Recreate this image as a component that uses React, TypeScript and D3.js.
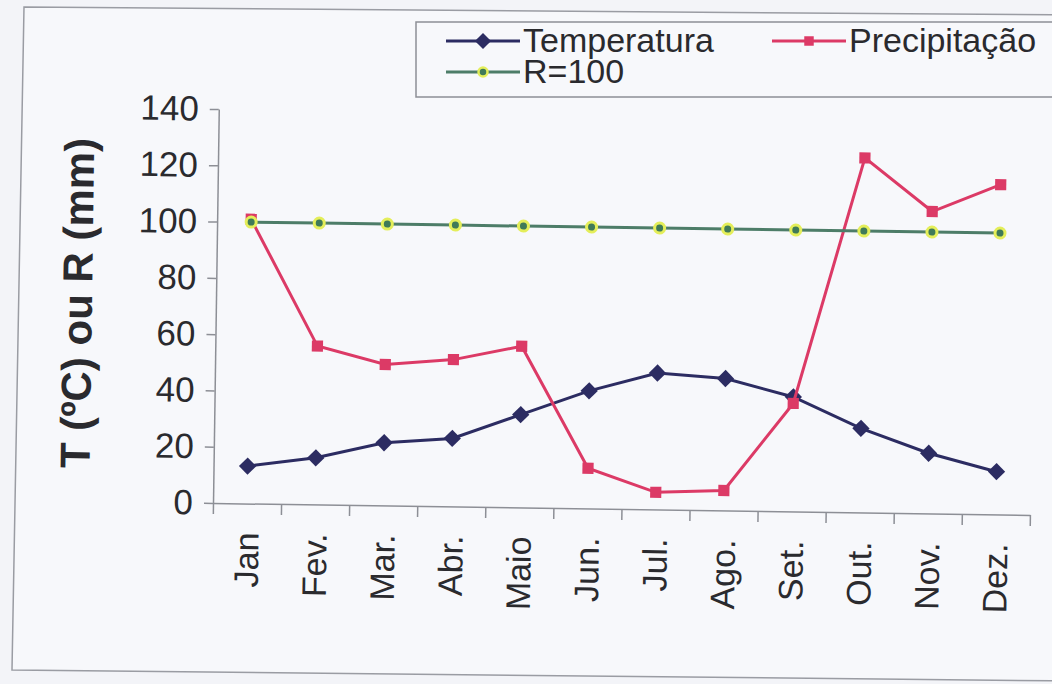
import React, { useEffect, useRef } from "react";
import * as d3 from "d3";

// categories and series
const months = ["Jan", "Fev.", "Mar.", "Abr.", "Maio", "Jun.", "Jul.", "Ago.", "Set.", "Out.", "Nov.", "Dez."];
const temperatura = [13.3, 16.6, 22.3, 24.2, 33, 41.8, 48.5, 46.9, 40.7, 29.9, 21.4, 15.2];
const precipitacao = [101, 56.3, 50.1, 52.2, 57.3, 14.3, 6.1, 7.1, 38.4, 126, 107.3, 117.2];
const r100 = [100, 100, 100, 100, 100, 100, 100, 100, 100, 100, 100, 100];
const yTicks = [0, 20, 40, 60, 80, 100, 120, 140];

const FONT = "'Liberation Sans', Arial, sans-serif";
const TEXT = "#2a2a2e";
const NAVY = "#2c2c62";
const PINK = "#dc3a66";
const GREEN_LINE = "#4d7d68";
const GREEN_DOT = "#3f7a58";
const YELLOW = "#e4ee5a";

const App = () => {
  const svgRef = useRef<SVGSVGElement>(null);

  useEffect(() => {
    document.body.style.margin = "0";
    const svg = d3.select(svgRef.current);
    svg.selectAll("*").remove();

    const width = 1052,
      height = 684;
    const left = 213,
      right = 1030,
      top = 109,
      bottom = 503;

    svg.attr("width", width).attr("height", height).style("display", "block");

    svg.append("rect").attr("width", width).attr("height", height).attr("fill", "#f3f4f8");

    // outer chart frame (photo is slightly skewed)
    svg
      .append("path")
      .attr("d", "M24,7 L1070,15 L1070,681 L12,670 Z")
      .attr("fill", "#f7f8fb")
      .attr("stroke", "#9a9ca3")
      .attr("stroke-width", 1.5);

    // whole plot is rotated a little, like the photographed page
    const chart = svg.append("g").attr("transform", `rotate(0.84, ${left}, ${bottom})`);

    const x = d3.scaleBand().domain(months).range([left, right]).padding(0);
    const xIdx = d3.scaleLinear().domain([0, months.length]).range([left, right]);
    const y = d3.scaleLinear().domain([0, 140]).range([bottom, top]);
    const cx = (m: string) => (x(m) as number) + x.bandwidth() / 2;

    // y axis
    const yAxis = chart
      .append("g")
      .attr("transform", `translate(${left},0)`)
      .call(d3.axisLeft(y).tickValues(yTicks).tickSize(9).tickPadding(11).tickSizeOuter(0));
    yAxis.select(".domain").attr("stroke", "#8d8f96").attr("stroke-width", 1.5);
    yAxis.selectAll(".tick line").attr("stroke", "#8d8f96").attr("stroke-width", 1.5);
    yAxis
      .selectAll("text")
      .attr("font-family", FONT)
      .attr("font-size", 35)
      .attr("fill", TEXT);

    // x axis ticks between categories
    const xTicks = chart
      .append("g")
      .attr("transform", `translate(0,${bottom})`)
      .call(
        d3
          .axisBottom(xIdx)
          .tickValues(d3.range(0, months.length + 1))
          .tickSize(11)
          .tickSizeOuter(0)
          .tickFormat(() => "")
      );
    xTicks.select(".domain").attr("stroke", "#8d8f96").attr("stroke-width", 1.5);
    xTicks.selectAll(".tick line").attr("stroke", "#8d8f96").attr("stroke-width", 1.5);

    // month labels, rotated
    chart
      .selectAll(".mlabel")
      .data(months)
      .enter()
      .append("text")
      .attr("class", "mlabel")
      .attr("transform", (d) => `translate(${cx(d)},${bottom + 29}) rotate(-90)`)
      .attr("text-anchor", "end")
      .attr("dy", "0.35em")
      .attr("font-family", FONT)
      .attr("font-size", 34)
      .attr("fill", TEXT)
      .text((d) => d);

    // y title
    chart
      .append("text")
      .attr("transform", `translate(89,305) rotate(-90)`)
      .attr("text-anchor", "middle")
      .attr("font-family", FONT)
      .attr("font-size", 42)
      .attr("font-weight", "bold")
      .attr("fill", TEXT)
      .text("T (ºC) ou R (mm)");

    const line = d3
      .line<number>()
      .x((_, i) => cx(months[i]))
      .y((d) => y(d));

    // Temperatura
    chart
      .append("path")
      .datum(temperatura)
      .attr("d", line)
      .attr("fill", "none")
      .attr("stroke", NAVY)
      .attr("stroke-width", 3);
    chart
      .selectAll(".tmark")
      .data(temperatura)
      .enter()
      .append("path")
      .attr("class", "tmark")
      .attr("d", d3.symbol(d3.symbolSquare, 150)())
      .attr("transform", (d, i) => `translate(${cx(months[i])},${y(d)}) rotate(45)`)
      .attr("fill", NAVY);

    // Precipitação
    chart
      .append("path")
      .datum(precipitacao)
      .attr("d", line)
      .attr("fill", "none")
      .attr("stroke", PINK)
      .attr("stroke-width", 3);
    chart
      .selectAll(".pmark")
      .data(precipitacao)
      .enter()
      .append("path")
      .attr("class", "pmark")
      .attr("d", d3.symbol(d3.symbolSquare, 125)())
      .attr("transform", (d, i) => `translate(${cx(months[i])},${y(d)})`)
      .attr("fill", PINK);

    // R=100
    chart
      .append("path")
      .datum(r100)
      .attr("d", line)
      .attr("fill", "none")
      .attr("stroke", GREEN_LINE)
      .attr("stroke-width", 3);
    chart
      .selectAll(".rmark")
      .data(r100)
      .enter()
      .append("circle")
      .attr("class", "rmark")
      .attr("cx", (_, i) => cx(months[i]))
      .attr("cy", (d) => y(d))
      .attr("r", 5)
      .attr("fill", GREEN_DOT)
      .attr("stroke", YELLOW)
      .attr("stroke-width", 3);

    // legend
    const legend = svg.append("g");
    legend
      .append("rect")
      .attr("x", 416)
      .attr("y", 22)
      .attr("width", 700)
      .attr("height", 75)
      .attr("fill", "none")
      .attr("stroke", "#8d8f96")
      .attr("stroke-width", 1.5);

    const items = [
      { name: "Temperatura", color: NAVY, kind: "diamond", lx: 446, ly: 41 },
      { name: "Precipitação", color: PINK, kind: "square", lx: 772, ly: 41 },
      { name: "R=100", color: GREEN_LINE, kind: "circle", lx: 446, ly: 72 },
    ];
    items.forEach((it) => {
      const g = legend.append("g").attr("transform", `translate(${it.lx},${it.ly})`);
      g.append("line").attr("x1", 0).attr("x2", 74).attr("stroke", it.color).attr("stroke-width", 3);
      if (it.kind === "diamond") {
        g.append("path")
          .attr("d", d3.symbol(d3.symbolSquare, 130)())
          .attr("transform", "translate(37,0) rotate(45)")
          .attr("fill", it.color);
      } else if (it.kind === "square") {
        g.append("path")
          .attr("d", d3.symbol(d3.symbolSquare, 90)())
          .attr("transform", "translate(37,0)")
          .attr("fill", it.color);
      } else {
        g.append("circle")
          .attr("cx", 37)
          .attr("r", 4.5)
          .attr("fill", GREEN_DOT)
          .attr("stroke", YELLOW)
          .attr("stroke-width", 2.5);
      }
      g.append("text")
        .attr("x", 77)
        .attr("y", 11)
        .attr("font-family", FONT)
        .attr("font-size", 34)
        .attr("fill", TEXT)
        .text(it.name);
    });
  }, []);

  return <svg ref={svgRef}></svg>;
};

export default App;
